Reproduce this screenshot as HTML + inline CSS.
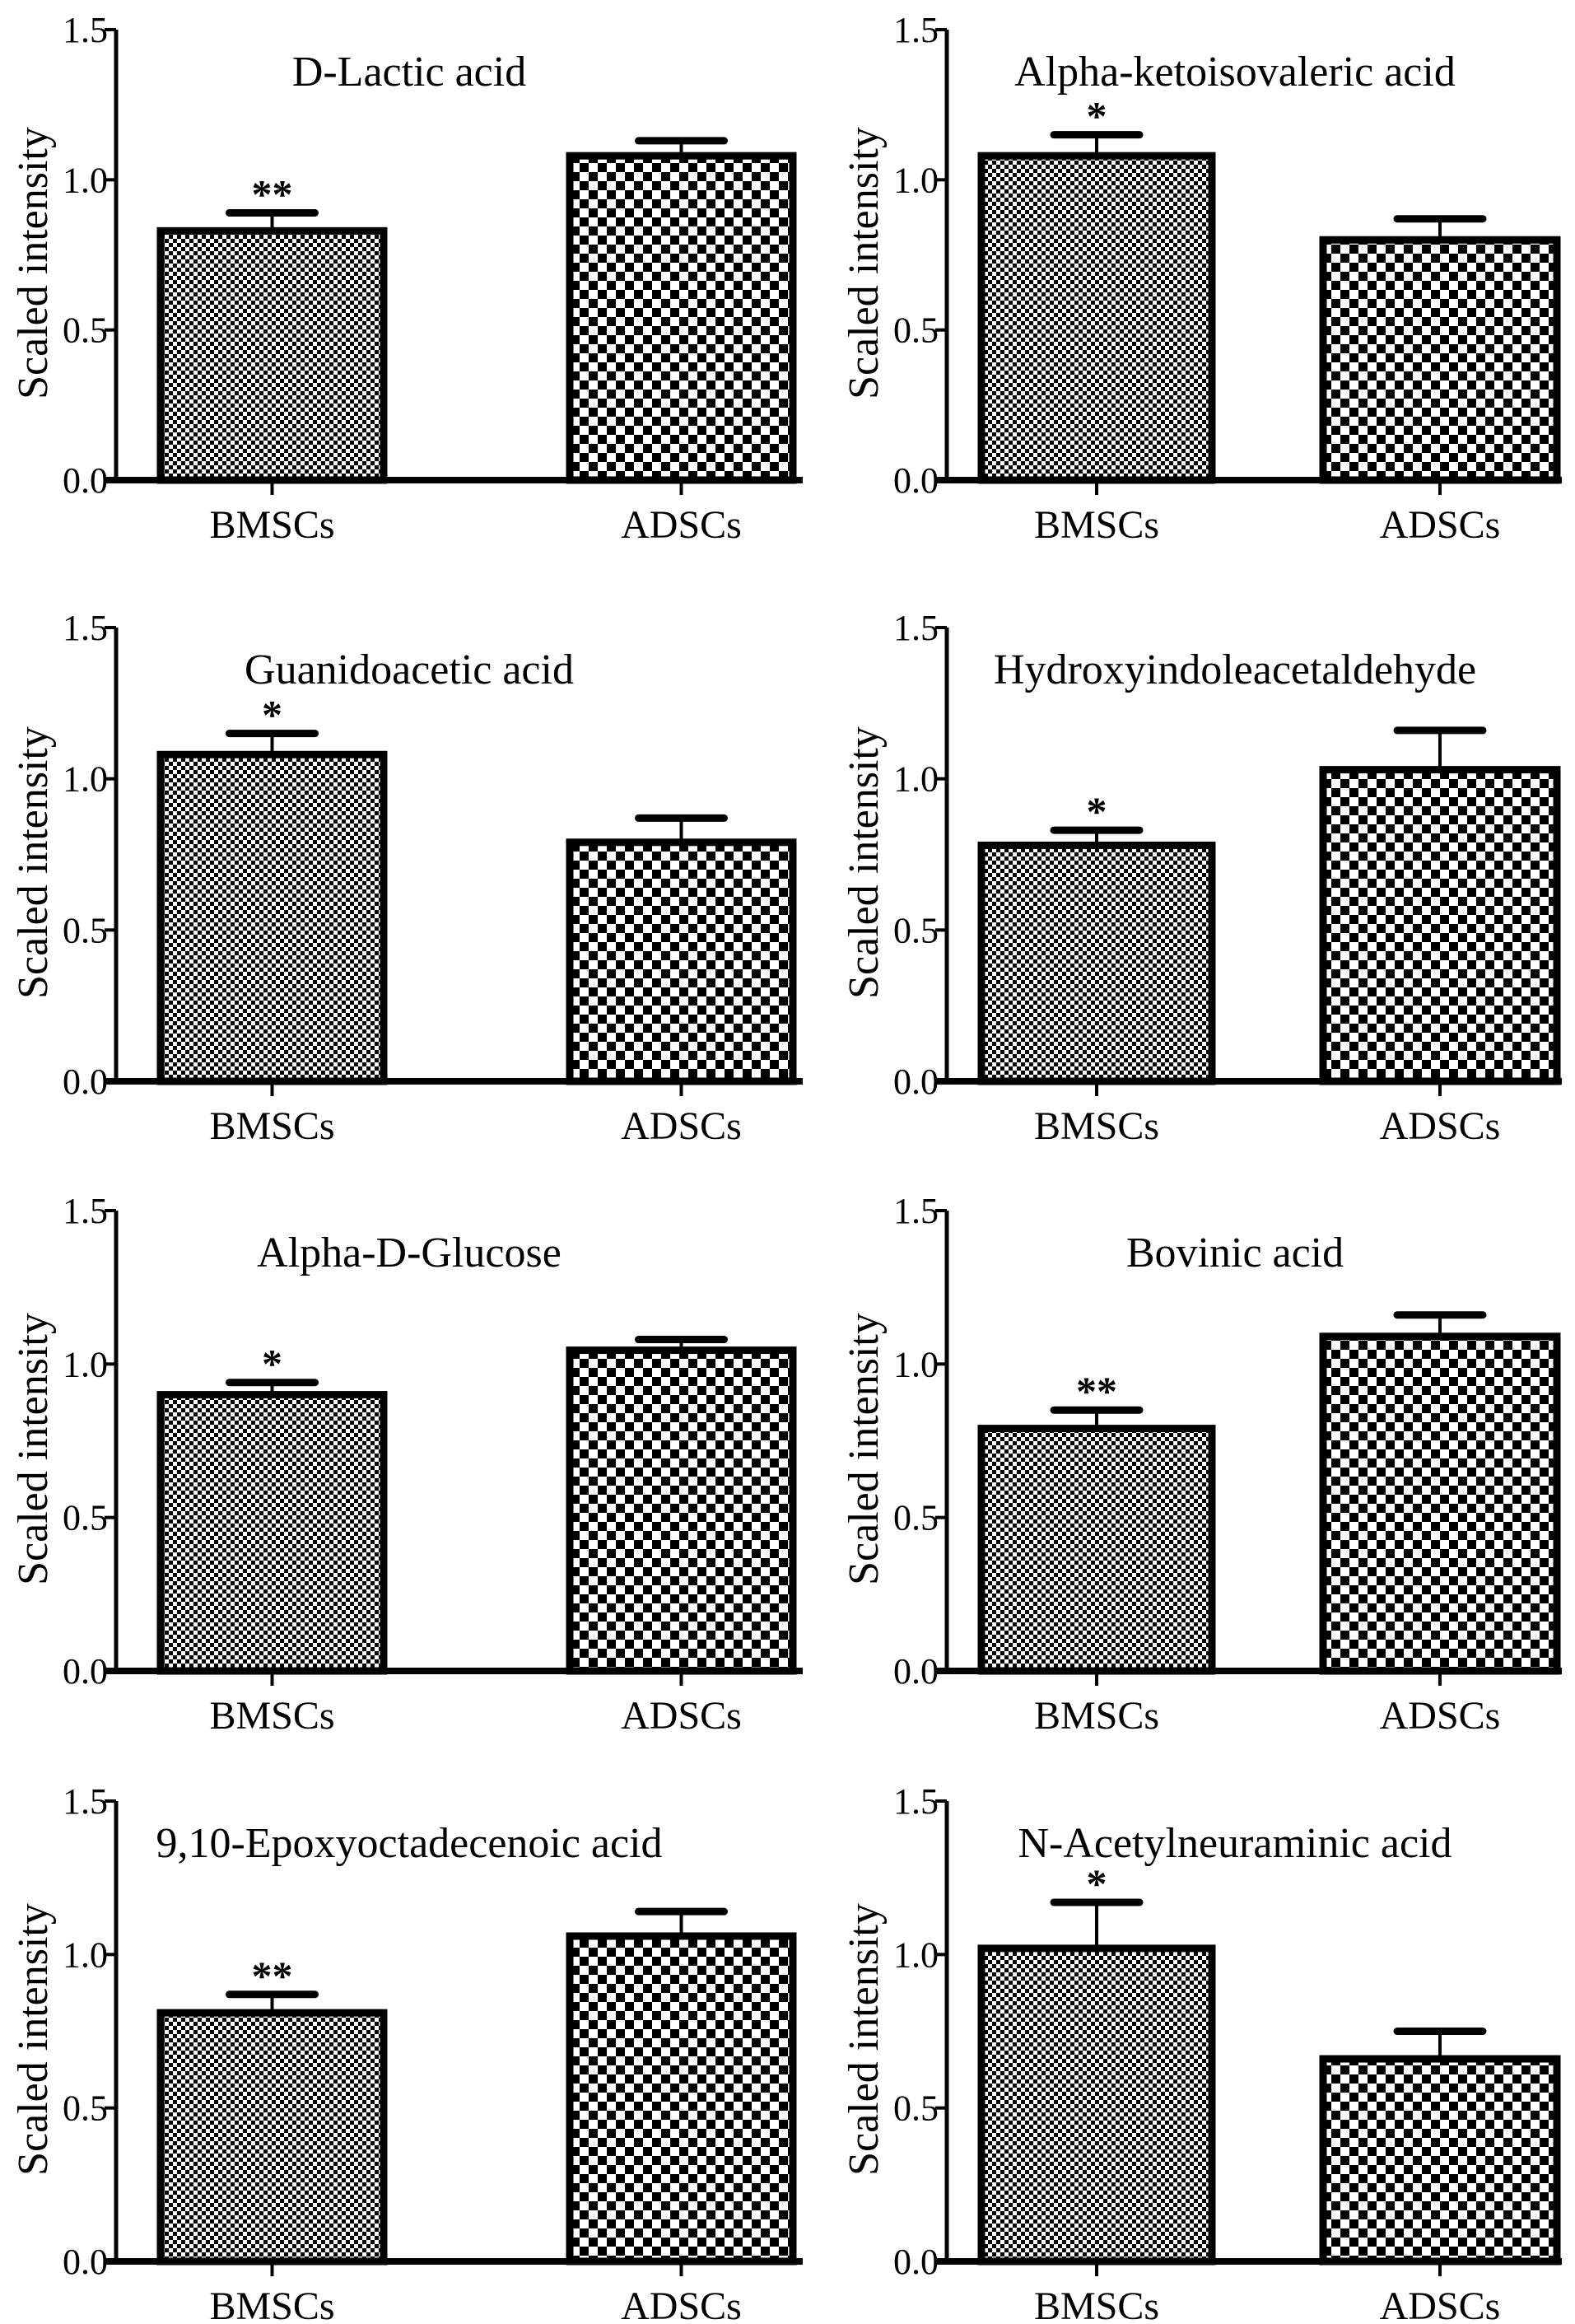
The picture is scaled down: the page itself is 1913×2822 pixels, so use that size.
<!DOCTYPE html>
<html><head><meta charset="utf-8">
<style>
html,body{margin:0;padding:0;background:#fff;}
svg{display:block;font-family:"Liberation Serif",serif;}
</style></head>
<body>
<svg id="chart" width="1913" height="2822" viewBox="0 0 1913 2822" xmlns="http://www.w3.org/2000/svg">
<defs>
<pattern id="fine" width="10" height="10" patternUnits="userSpaceOnUse">
<rect width="10" height="10" fill="#fff"/><rect width="5" height="5" fill="#000"/><rect x="5" y="5" width="5" height="5" fill="#000"/>
</pattern>
<pattern id="coarse" width="22" height="22" patternUnits="userSpaceOnUse">
<rect width="22" height="22" fill="#fff"/><rect width="11" height="11" fill="#000"/><rect x="11" y="11" width="11" height="11" fill="#000"/>
</pattern>
</defs>
</svg>
<script>
const titles = ["D-Lactic acid","Alpha-ketoisovaleric acid","Guanidoacetic acid","Hydroxyindoleacetaldehyde","Alpha-D-Glucose","Bovinic acid","9,10-Epoxyoctadecenoic acid","N-Acetylneuraminic acid"];
const categories = ["BMSCs","ADSCs"];
const bmscValues = [0.83,1.08,1.08,0.78,0.90,0.79,0.81,1.02];
const bmscErrors = [0.06,0.07,0.07,0.05,0.04,0.06,0.06,0.15];
const adscValues = [1.08,0.80,0.79,1.03,1.045,1.09,1.06,0.66];
const adscErrors = [0.05,0.07,0.08,0.13,0.035,0.07,0.08,0.09];
const stars = ["**","*","*","*","*","**","**","*"];
const tickLabels = ["0.0","0.5","1.0","1.5"];
const tickValues = [0,0.5,1.0,1.5];

const NS="http://www.w3.org/2000/svg";
const svg=document.getElementById('chart');
function mk(tag,attrs,parent){const e=document.createElementNS(NS,tag);for(const k in attrs)e.setAttribute(k,attrs[k]);(parent||svg).appendChild(e);return e;}
const rowTop=[36,762,1470,2187], rowBot=[583,1313,2029,2746];
const colAxis=[141,1150];
const barOff=[[54,325],[551,822]];
const barOffR=[[42,322],[457,741]];
for(let i=0;i<titles.length;i++){
  const r=Math.floor(i/2), c=i%2;
  const ax=colAxis[c], top=rowTop[r], bot=rowBot[r];
  const y=v=>bot-(v/1.5)*(bot-top);
  const g=mk('g',{});
  
  
  const offs=c===0?barOff:barOffR;
  const axEnd=ax+(c===0?834:747);
  const vals=[bmscValues[i],adscValues[i]], errs=[bmscErrors[i],adscErrors[i]];
  for(let b=0;b<2;b++){
    const x0=ax+offs[b][0], x1=ax+offs[b][1], cx=(x0+x1)/2;
    const ytop=y(vals[b]), yerr=y(vals[b]+errs[b]);
    const st=mk('line',{x1:cx,x2:cx,y1:ytop,y2:yerr,stroke:'#000','stroke-width':4},g);
    
    
    const cap=mk('line',{x1:cx-52,x2:cx+52,y1:yerr,y2:yerr,stroke:'#000','stroke-width':9,'stroke-linecap':'round'},g);
    
    
    const rect=mk('rect',{x:x0,y:ytop,width:x1-x0,height:bot-ytop,fill:b===0?'url(#fine)':'url(#coarse)',stroke:'#000','stroke-width':9},g);
    
    
    const tk=mk('line',{x1:cx,x2:cx,y1:bot,y2:bot+18,stroke:'#000','stroke-width':4},g);
    
    
    const lb=mk('text',{x:cx,y:bot+70,'font-size':48,'text-anchor':'middle'},g);
    lb.textContent=categories[b];
    
    
    if(b===0){
      const s=mk('text',{x:cx,y:yerr-6,'font-size':50,'font-weight':'bold','text-anchor':'middle'},g);
      s.textContent=stars[i];
      
      
    }
  }
  const ya=mk('line',{x1:ax,x2:ax,y1:top,y2:bot+2,stroke:'#000','stroke-width':5},g);
  
  
  const xa=mk('line',{x1:ax-14,x2:axEnd,y1:bot,y2:bot,stroke:'#000','stroke-width':8},g);
  
  
  for(let t=0;t<tickValues.length;t++){
    const ty=y(tickValues[t]);
    const tl=mk('line',{x1:ax-14,x2:ax,y1:ty,y2:ty,stroke:'#000','stroke-width':4},g);
    
    
    const tt=mk('text',{x:ax-10,y:ty+15,'font-size':44,'text-anchor':'end'},g);
    tt.textContent=tickLabels[t];
    
    
  }
  const yt=mk('text',{x:0,y:0,'font-size':52,'text-anchor':'middle',transform:`translate(${ax-84},${(top+bot)/2+10}) rotate(-90)`},g);
  yt.textContent="Scaled intensity";
  
  
  const tx=c===0?ax+356:ax+350;
  const ti=mk('text',{x:tx,y:top+68,'font-size':52,'text-anchor':'middle'},g);
  ti.textContent=titles[i];
  
  
}
</script>
</body></html>
